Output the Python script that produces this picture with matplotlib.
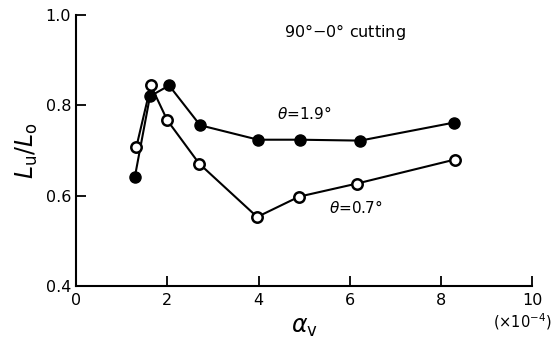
import matplotlib
matplotlib.use("Agg")
import matplotlib.pyplot as plt

# data (alpha_v in units of 1e-4)
alpha_19 = [1.29, 1.62, 2.04, 2.72, 3.99, 4.91, 6.23, 8.29]
ratio_19 = [0.642, 0.820, 0.844, 0.756, 0.724, 0.724, 0.722, 0.762]

alpha_07 = [1.32, 1.64, 2.00, 2.70, 3.97, 4.89, 6.16, 8.30]
ratio_07 = [0.707, 0.844, 0.767, 0.671, 0.553, 0.598, 0.627, 0.680]

xticks = [0, 2, 4, 6, 8, 10]
yticks = [0.4, 0.6, 0.8, 1.0]

plt.rcParams.update({'font.family': 'DejaVu Sans', 'font.size': 11})

fig = plt.figure(figsize=(5.55, 3.41), dpi=100)
ax = fig.add_axes([0.137, 0.161, 0.822, 0.795])

ax.plot(alpha_19, ratio_19, '-o', color='black', lw=1.5, ms=8,
        mfc='black', mec='black')
ax.plot(alpha_07, ratio_07, '-o', color='black', lw=1.5, ms=7.5,
        mfc='white', mec='black', mew=1.8)

ax.set_xlim(0, 10)
ax.set_ylim(0.4, 1.0)
ax.set_xticks(xticks)
ax.set_yticks(yticks)
ax.set_yticklabels(['0.4', '0.6', '0.8', '1.0'])
ax.tick_params(direction='in', length=7, width=1.3, labelsize=11.5)
ax.tick_params(axis='x', pad=5)
ax.spines['top'].set_visible(False)
ax.spines['right'].set_visible(False)
for s in ['left', 'bottom']:
    ax.spines[s].set_linewidth(1.5)

ax.set_ylabel(r'$L_{\rm u}/L_{\rm o}$', fontsize=17, labelpad=4)
ax.set_xlabel(r'$\alpha_{\rm v}$', fontsize=17, labelpad=5)

ax.text(5.0, 0.782, r'$\theta$=1.9°', ha='center', va='center', fontsize=11)
ax.text(6.14, 0.573, r'$\theta$=0.7°', ha='center', va='center', fontsize=11)
ax.text(5.9, 0.962, '90°$-$0° cutting', ha='center', va='center', fontsize=11.5)
ax.text(9.78, 0.322, r'(×10$^{-4}$)', ha='center', va='center', fontsize=10.5,
        clip_on=False)

fig.savefig('out.png', dpi=100)
